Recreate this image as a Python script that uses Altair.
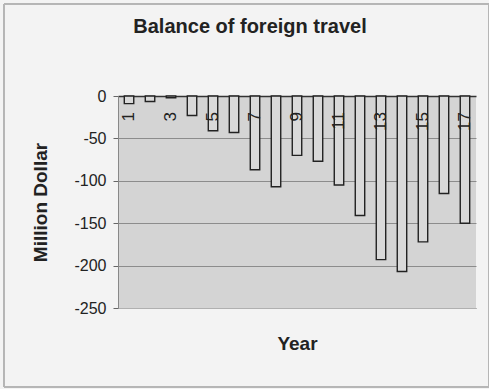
import altair as alt
import pandas as pd

years = [1, 2, 3, 4, 5, 6, 7, 8, 9, 10, 11, 12, 13, 14, 15, 16, 17]
balance = [-9, -6.5, -2, -23, -41, -43, -87, -107, -70, -77, -105, -141, -193, -207, -172, -115, -150]
y_ticks = [-250, -200, -150, -100, -50, 0]

df = pd.DataFrame({"year": years, "balance": balance})

FONT = "Liberation Sans"

base = alt.Chart(df)

xenc = alt.X("year:O", scale=alt.Scale(paddingInner=0.55, paddingOuter=0.3),
             axis=alt.Axis(orient="bottom", labels=False, ticks=False, domain=True,
                           domainColor="#b0b0b0", title="Year", titleFontSize=19,
                           titleFont=FONT, titleFontWeight="bold", titleColor="#222",
                           titlePadding=26, titleBaseline="top"))

yenc = alt.Y("balance:Q", scale=alt.Scale(domain=[-250, 0], nice=False),
             axis=alt.Axis(values=y_ticks, title="Million Dollar", titleFontSize=19,
                           titleFont=FONT, titleFontWeight="bold", titleColor="#222",
                           titlePadding=23, labelFontSize=16, labelFont=FONT,
                           labelExpr="'' + datum.value",
                           labelColor="#222", labelPadding=7, tickSize=5,
                           tickColor="#666", domainColor="#888",
                           grid=True,
                           gridColor=alt.condition("datum.value === 0", alt.value("#333333"), alt.value("#8c8c8c")),
                           gridWidth=alt.condition("datum.value === 0", alt.value(1.3), alt.value(1))))

bars = base.mark_bar(fill="#d9d9d9", stroke="#222222", strokeWidth=1.4).encode(
    x=xenc, y=yenc
)

labels = base.transform_filter("datum.year % 2 == 1").mark_text(
    angle=270, align="right", baseline="middle", dx=-16, fontSize=17, font=FONT, color="#222"
).encode(
    x="year:O", y=alt.datum(0), text="year:O"
)

frame = alt.Chart(df).mark_rect(fill=None, stroke="#b5b5b5", strokeWidth=1).encode(
    x=alt.value(-114), x2=alt.value(371), y=alt.value(-92), y2=alt.value(291)
)

chart = alt.layer(frame, bars, labels).properties(
    width=358, height=212,
    autosize=alt.AutoSizeParams(type="none"),
    padding={"left": 118, "top": 96, "right": 13, "bottom": 81},
    background="#f3f3f3",
    title=alt.TitleParams("Balance of foreign travel", anchor="middle", frame="group",
                          dx=-47, dy=49, offset=0, baseline="alphabetic",
                          fontSize=20, font=FONT, fontWeight="bold", color="#222"),
).configure_view(fill="#d4d4d4", stroke=None)

chart.save("out.html", embed_options={"renderer": "svg", "actions": False})
